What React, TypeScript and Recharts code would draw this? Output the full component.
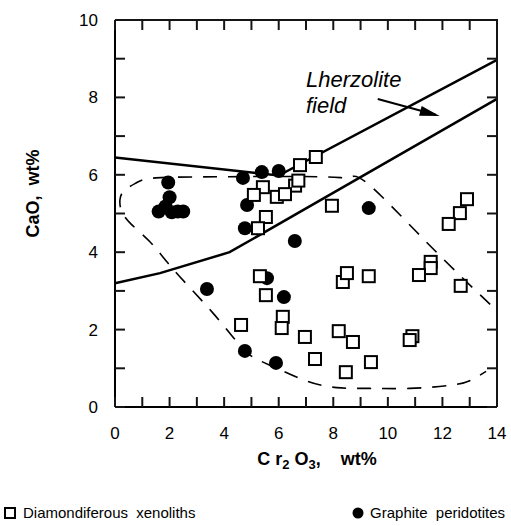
import { ScatterChart, Scatter, XAxis, YAxis, Legend, Label } from 'recharts';

const FONT = '"Liberation Sans", Arial, Helvetica, sans-serif';
const INK = '#151515';

const xTicks = [0, 1, 2, 3, 4, 5, 6, 7, 8, 9, 10, 11, 12, 13, 14];
const yTicks = [0, 1, 2, 3, 4, 5, 6, 7, 8, 9, 10];

// Diamondiferous xenoliths (open squares)
const diamondiferous = [
  { x: 7.36, y: 6.46 }, { x: 6.78, y: 6.25 }, { x: 6.6, y: 5.72 }, { x: 6.72, y: 5.85 },
  { x: 5.42, y: 5.68 }, { x: 5.09, y: 5.48 }, { x: 5.93, y: 5.43 }, { x: 6.23, y: 5.5 },
  { x: 7.95, y: 5.2 }, { x: 5.53, y: 4.91 }, { x: 5.24, y: 4.62 }, { x: 5.31, y: 3.38 },
  { x: 5.53, y: 2.89 }, { x: 6.15, y: 2.33 }, { x: 6.11, y: 2.04 }, { x: 4.62, y: 2.12 },
  { x: 6.96, y: 1.81 }, { x: 7.33, y: 1.24 }, { x: 8.35, y: 3.23 }, { x: 8.5, y: 3.46 },
  { x: 9.3, y: 3.38 }, { x: 8.2, y: 1.96 }, { x: 8.72, y: 1.68 }, { x: 9.38, y: 1.16 },
  { x: 8.46, y: 0.9 }, { x: 10.9, y: 1.83 }, { x: 10.8, y: 1.73 }, { x: 12.9, y: 5.37 },
  { x: 12.64, y: 5.01 }, { x: 12.23, y: 4.73 }, { x: 11.57, y: 3.75 }, { x: 11.57, y: 3.59 },
  { x: 11.14, y: 3.41 }, { x: 12.67, y: 3.13 },
];

// Graphite peridotites (filled circles)
const graphite = [
  { x: 1.95, y: 5.8 }, { x: 2.0, y: 5.42 }, { x: 1.6, y: 5.05 }, { x: 1.85, y: 5.18 },
  { x: 2.08, y: 5.03 }, { x: 2.3, y: 5.05 }, { x: 2.5, y: 5.05 }, { x: 4.69, y: 5.92 },
  { x: 5.38, y: 6.07 }, { x: 6.0, y: 6.1 }, { x: 4.84, y: 5.22 }, { x: 4.76, y: 4.62 },
  { x: 6.59, y: 4.29 }, { x: 9.3, y: 5.14 }, { x: 3.37, y: 3.05 }, { x: 5.57, y: 3.33 },
  { x: 6.19, y: 2.84 }, { x: 4.76, y: 1.45 }, { x: 5.9, y: 1.14 },
];

// Lherzolite field boundaries
const upperBoundary = [{ x: 0, y: 6.45 }, { x: 6.0, y: 5.98 }, { x: 14, y: 8.97 }];
const lowerBoundary = [{ x: 0, y: 3.2 }, { x: 1.65, y: 3.46 }, { x: 4.2, y: 4.0 }, { x: 14, y: 7.96 }];

// dashed outline around the diamondiferous samples
const dashedOutline = [
  { x: 13.75, y: 2.65 }, { x: 11.5, y: 4.2 }, { x: 9.3, y: 5.75 }, { x: 8.6, y: 5.93 },
  { x: 7.5, y: 5.95 }, { x: 4, y: 5.95 }, { x: 1.5, y: 5.92 }, { x: 0.8, y: 5.8 },
  { x: 0.35, y: 5.6 }, { x: 0.18, y: 5.35 }, { x: 0.25, y: 5.05 }, { x: 0.6, y: 4.72 },
  { x: 1.28, y: 4.27 }, { x: 1.94, y: 3.72 }, { x: 2.75, y: 3.08 }, { x: 3.6, y: 2.42 },
  { x: 4.32, y: 1.81 }, { x: 4.8, y: 1.42 }, { x: 5.3, y: 1.2 }, { x: 6.0, y: 0.98 },
  { x: 7.03, y: 0.67 }, { x: 8.13, y: 0.5 }, { x: 9.34, y: 0.48 }, { x: 10.8, y: 0.48 },
  { x: 12.27, y: 0.56 }, { x: 13.0, y: 0.68 }, { x: 13.6, y: 0.92 },
];

const arrowLine = [{ x: 9.63, y: 7.96 }, { x: 11.75, y: 7.55 }];
const arrowHead = [{ x: 11.9, y: 7.52 }];
const fieldLabel = [{ x: 7.0, y: 8.27, text: 'Lherzolite', text2: 'field' }];

// closing frame (top and right sides) and inward tick marks, built from the tick lists
const frame = [{ x: 0, y: 10 }, { x: 14, y: 10 }, { x: 14, y: 0 }];
const bottomMarks = xTicks.map((v) => ({ x: v, y: 0 }));
const topMarks = xTicks.map((v) => ({ x: v, y: 10 }));
const leftMarks = yTicks.map((v) => ({ x: 0, y: v }));
const rightMarks = yTicks.map((v) => ({ x: 14, y: v }));

const Nothing = () => <g />;

const SquareMark = ({ cx, cy }: any) => (
  <rect x={cx - 6} y={cy - 6} width={12} height={12} fill="#fff" stroke="#000" strokeWidth={2} />
);

const DotMark = ({ cx, cy }: any) => <circle cx={cx} cy={cy} r={7} fill="#000" />;

const ArrowHeadMark = ({ cx, cy }: any) => (
  <polygon
    points={`${cx},${cy} ${cx - 20},${cy - 5} ${cx - 20},${cy + 5}`}
    fill="#000"
    transform={`rotate(15 ${cx} ${cy})`}
  />
);

const FieldText = ({ cx, cy, payload }: any) => (
  <text x={cx} y={cy} fontSize={22} fontStyle="italic" fontFamily={FONT} fill="#000">
    <tspan x={cx}>{payload.text}</tspan>
    <tspan x={cx} dy={26}>{payload.text2}</tspan>
  </text>
);

const tickMark = (dx: number, dy: number) => ({ cx, cy }: any) => (
  <path d={`M${cx},${cy}L${cx + dx},${cy + dy}`} stroke={INK} strokeWidth={2} fill="none" />
);

const BottomTick = ({ x, y, payload }: any) =>
  payload.value % 2 === 0 ? (
    <text x={x} y={y + 32} textAnchor="middle" fontSize={17} fontFamily={FONT} fill="#000">
      {payload.value}
    </text>
  ) : (
    <g />
  );

const LeftTick = ({ x, y, payload }: any) =>
  payload.value % 2 === 0 ? (
    <text x={x - 17} y={y} dy="0.35em" textAnchor="end" fontSize={17} fontFamily={FONT} fill="#000">
      {payload.value}
    </text>
  ) : (
    <g />
  );

const XTitle = ({ viewBox }: any) => {
  const cx = viewBox.x + viewBox.width / 2 + 11;
  const y = viewBox.y + 58;
  return (
    <text x={cx} y={y} textAnchor="middle" fontSize={18} fontWeight="bold" fontFamily={FONT} fill="#000" style={{ whiteSpace: 'pre' }}>
      <tspan>C r</tspan>
      <tspan fontSize={13} dy={4}>2</tspan>
      <tspan dy={-4}> O</tspan>
      <tspan fontSize={13} dy={4}>3</tspan>
      <tspan dy={-4}>,    wt%</tspan>
    </text>
  );
};

const YTitle = ({ viewBox }: any) => {
  const x = viewBox.x - 22;
  const y = viewBox.y + viewBox.height / 2 - 20;
  return (
    <text x={x} y={y} textAnchor="middle" dominantBaseline="central" fontSize={18} fontWeight="bold" fontFamily={FONT} fill="#000" transform={`rotate(-90 ${x} ${y})`} style={{ whiteSpace: 'pre' }}>
      CaO,  wt%
    </text>
  );
};

const LegendBox = () => (
  <div style={{ display: 'flex', justifyContent: 'space-between', fontFamily: FONT, fontSize: 15, color: '#000', padding: '0 6px 0 4px', wordSpacing: 4, lineHeight: '20px' }}>
    <span style={{ display: 'flex', alignItems: 'center' }}>
      <svg width={12} height={12} style={{ marginRight: 7 }}>
        <rect x={1} y={1} width={10} height={10} fill="#fff" stroke="#000" strokeWidth={2} />
      </svg>
      Diamondiferous xenoliths
    </span>
    <span style={{ display: 'flex', alignItems: 'center' }}>
      <svg width={12} height={12} style={{ marginRight: 6 }}>
        <circle cx={6} cy={6} r={5.5} fill="#000" />
      </svg>
      Graphite peridotites
    </span>
  </div>
);

const axisStroke = { stroke: '#000', strokeWidth: 2 };

export default function App() {
  return (
    <div style={{ position: 'absolute', left: 0, top: 0 }}>
      <ScatterChart width={511} height={526} margin={{ top: 20, right: 14, bottom: 89, left: 55 }}>
        <XAxis
          type="number" dataKey="x" domain={[0, 14]} ticks={xTicks}
          height={30} tickSize={0} tickMargin={0} tickLine={false}
          axisLine={axisStroke} tick={BottomTick}
        >
          <Label content={XTitle} />
        </XAxis>
        <YAxis
          type="number" dataKey="y" domain={[0, 10]} ticks={yTicks}
          width={60} tickSize={0} tickMargin={0} tickLine={false}
          axisLine={axisStroke} tick={LeftTick}
        >
          <Label content={YTitle} />
        </YAxis>
        <Legend layout="horizontal" verticalAlign="middle" align="center" wrapperStyle={{ top: 503, left: 0, width: 511 }} content={LegendBox} />
        <Scatter name="upper" data={upperBoundary} line={{ stroke: '#000', strokeWidth: 2.5 }} shape={Nothing} isAnimationActive={false} />
        <Scatter name="lower" data={lowerBoundary} line={{ stroke: '#000', strokeWidth: 2.5 }} shape={Nothing} isAnimationActive={false} />
        <Scatter name="outline" data={dashedOutline} line={{ stroke: '#000', strokeWidth: 1.6, strokeDasharray: '14 11' }} lineJointType="natural" shape={Nothing} isAnimationActive={false} />
        <Scatter name="arrow" data={arrowLine} line={{ stroke: '#000', strokeWidth: 2 }} shape={Nothing} isAnimationActive={false} />
        <Scatter name="arrowHead" data={arrowHead} shape={ArrowHeadMark} isAnimationActive={false} />
        <Scatter name="label" data={fieldLabel} shape={FieldText} isAnimationActive={false} />
        <Scatter name="Graphite peridotites" data={graphite} shape={DotMark} isAnimationActive={false} />
        <Scatter name="Diamondiferous xenoliths" data={diamondiferous} shape={SquareMark} isAnimationActive={false} />
        <Scatter name="frame" data={frame} line={{ stroke: INK, strokeWidth: 2 }} shape={Nothing} isAnimationActive={false} />
        <Scatter name="bottomMarks" data={bottomMarks} shape={tickMark(0, -10)} isAnimationActive={false} />
        <Scatter name="topMarks" data={topMarks} shape={tickMark(0, 10)} isAnimationActive={false} />
        <Scatter name="leftMarks" data={leftMarks} shape={tickMark(10, 0)} isAnimationActive={false} />
        <Scatter name="rightMarks" data={rightMarks} shape={tickMark(-10, 0)} isAnimationActive={false} />
      </ScatterChart>
    </div>
  );
}
